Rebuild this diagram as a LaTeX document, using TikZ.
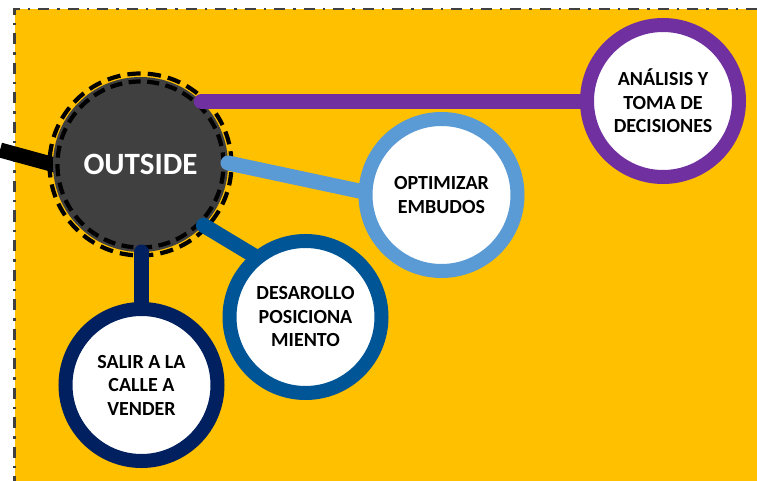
\documentclass[tikz,border=0pt]{standalone}
\usepackage{fontspec}
\setmainfont{Carlito}
\usetikzlibrary{calc}
\pgfdeclarelayer{bg}
\pgfdeclarelayer{blk}
\pgfdeclarelayer{hub}
\pgfdeclarelayer{conn}
\pgfsetlayers{bg,blk,hub,conn,main}
\definecolor{yel}{HTML}{FFC000}
\definecolor{purp}{HTML}{7030A0}
\definecolor{lblue}{HTML}{5B9BD5}
\definecolor{mblue}{HTML}{005597}
\definecolor{navy}{HTML}{002060}
\definecolor{hubgray}{HTML}{404040}
\definecolor{bordergray}{HTML}{404040}
\begin{document}
\begin{tikzpicture}[x=1pt,y=-1pt,
  topic/.style={circle,draw=#1,line width=14pt,fill=white,minimum size=152pt,
    inner sep=0pt,outer sep=0pt,align=center,text=black,
    font=\fontsize{20}{23.5}\selectfont\bfseries},
  link/.style={draw=#1,line width=15pt,line cap=round},
  hubnode/.style={circle,fill=hubgray,minimum size=175pt,inner sep=0pt,outer sep=0pt,
    text=white,font=\fontsize{31}{36}\selectfont\bfseries},
  outerring/.style={draw=black,line width=4.2pt,dash pattern=on 13.3pt off 7.1pt},
  innerring/.style={draw=black,line width=4.2pt,dash pattern=on 12.1pt off 6.5pt},
  frame/.style={draw=bordergray,line width=2.6pt,dash pattern=on 11pt off 8pt on 2.5pt off 8pt}]
\useasboundingbox (0,0) rectangle (757,481);
\begin{pgfonlayer}{bg}
  \fill[yel] (14.5,9) rectangle (757,481);
  \draw[frame] (757,9) -- (14.5,9) -- (14.5,481);
\end{pgfonlayer}
\begin{pgfonlayer}{hub}
  \node[hubnode] (outside) at (140.5,164.5) {OUTSIDE};
  \draw[outerring] (outside.center) circle[radius=91pt];
  \draw[innerring] (outside.center) circle[radius=83pt];
\end{pgfonlayer}
\node[topic=purp] (analisis) at (663,101) {ANÁLISIS Y\\TOMA DE\\DECISIONES};
\node[topic=lblue] (optimizar) at (441.5,195) {OPTIMIZAR\\EMBUDOS};
\node[topic=mblue] (desarollo) at (305.5,317) {DESAROLLO\\POSICIONA\\MIENTO};
\node[topic=navy] (salir) at (141.5,385) {SALIR A LA\\CALLE A\\VENDER};
\coordinate (blkend) at (0,150);
\begin{pgfonlayer}{blk}
  \draw[black,line width=15pt,shorten >=-6pt] (blkend) -- (outside.180);
\end{pgfonlayer}
\begin{pgfonlayer}{conn}
  \draw[link=purp] (outside.46) -- (outside.46 -| analisis.center);
  \draw[link=lblue] (outside.1) -- (optimizar.178);
  \draw[link=mblue] (outside.-44) -- (desarollo.129);
  \draw[link=navy] (salir.north |- outside.south) -- (salir.north);
\end{pgfonlayer}
\end{tikzpicture}
\end{document}
